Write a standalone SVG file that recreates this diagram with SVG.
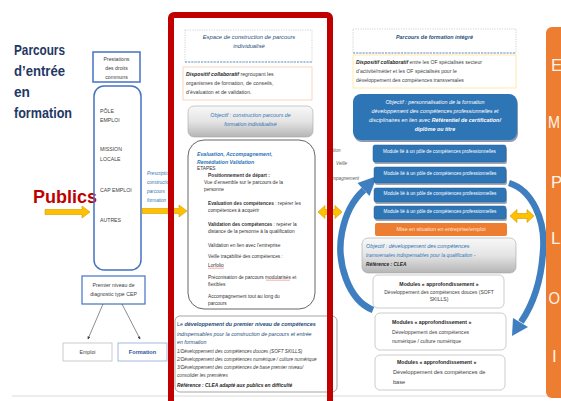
<svg xmlns="http://www.w3.org/2000/svg" width="561" height="401" viewBox="0 0 561 401">
<defs>
<style>
text{font-family:"Liberation Sans",Arial,sans-serif;}
.title{font-size:15px;font-weight:bold;fill:#1F3864;}
.lbl{font-size:5.2px;fill:#404040;}
.sm{font-size:4.8px;fill:#333333;}
.md{font-size:5.2px;fill:#404040;}
.b{font-weight:bold;}
.i{font-style:italic;}
.c{text-anchor:middle;}
.navy{fill:#1F4E79;}
.blue{fill:#2E75B6;}
.bbox{fill:none;stroke:#4472C4;stroke-width:1.5;}
.mod{fill:#2E75B6;stroke:#285F99;stroke-width:0.5;}
.shadow{fill:#9FA8B5;}
.modt{font-size:4.7px;fill:#fff;text-anchor:middle;}
.app{fill:#fff;stroke:#BFBFBF;stroke-width:0.8;}
.yarrow{fill:#FFC000;stroke:#D49A00;stroke-width:0.6;}
.curve{fill:none;stroke:#3F7FBF;stroke-width:6.5;}
.curvehead{fill:#3F7FBF;}
.letter{font-size:17px;fill:#FFF3E8;}
.dot{fill:none;stroke:#BFBFBF;stroke-width:0.7;stroke-dasharray:1.2 1.2;}
.dash{stroke:#4A7FC0;stroke-width:0.8;stroke-dasharray:2 1.2;}
.conn{stroke:#404040;stroke-width:0.6;fill:none;}
</style>
<linearGradient id="gray" x1="0" y1="0" x2="0" y2="1">
<stop offset="0" stop-color="#F8F8F8"/><stop offset="0.5" stop-color="#E4E4E4"/><stop offset="1" stop-color="#B5B5B5"/>
</linearGradient>
<marker id="ah" viewBox="0 0 6 6" refX="5" refY="3" markerWidth="5" markerHeight="5" orient="auto">
<path d="M0,0 L6,3 L0,6 z" fill="#404040"/>
</marker>
<clipPath id="clipL"><rect x="0" y="0" width="169" height="401"/></clipPath>
<clipPath id="clipR"><rect x="331" y="0" width="30" height="401"/></clipPath>
</defs>

<rect x="0" y="0" width="561" height="401" fill="#FFFFFF"/>
<line x1="12" y1="396" x2="547" y2="396" stroke="#D9D9D9" stroke-width="1"/>

<!-- Left column -->
<g id="title">
<text x="14" y="55" class="title" textLength="51" lengthAdjust="spacingAndGlyphs">Parcours</text>
<text x="14" y="76" class="title" textLength="51" lengthAdjust="spacingAndGlyphs">d’entrée</text>
<text x="14" y="97" class="title" textLength="16" lengthAdjust="spacingAndGlyphs">en</text>
<text x="14" y="118" class="title" textLength="58" lengthAdjust="spacingAndGlyphs">formation</text>
</g>

<g id="publics">
<text x="33" y="203" font-size="18" font-weight="bold" fill="#C00000">Publics</text>
</g>

<g id="prestations">
<rect x="93" y="52" width="47" height="30" class="bbox"/>
<text x="116.5" y="61" class="lbl c">Prestations</text>
<text x="116.5" y="70" class="lbl c">des droits</text>
<text x="116.5" y="78.5" class="lbl c">communs</text>
</g>

<g id="organismes">
<rect x="94" y="86" width="47" height="184" rx="10" class="bbox"/>
<text x="100" y="113" class="lbl">PÔLE</text>
<text x="100" y="122" class="lbl">EMPLOI</text>
<text x="100" y="151" class="lbl">MISSION</text>
<text x="100" y="160.5" class="lbl">LOCALE</text>
<text x="100" y="192" class="lbl">CAP EMPLOI</text>
<text x="100" y="222" class="lbl">AUTRES</text>
</g>

<g id="diagnostic">
<rect x="82" y="276" width="63" height="28" fill="#fff" stroke="#4472C4" stroke-width="1.2"/>
<text x="113.5" y="287" class="md c">Premier niveau de</text>
<text x="113.5" y="296" class="md c">diagnostic  type CEP</text>
</g>

<g id="emploi">
<rect x="63" y="343" width="49" height="18" fill="#fff" stroke="#BFBFBF" stroke-width="0.8"/>
<text x="87.5" y="353.5" class="md c">Emploi</text>
</g>
<g id="formation">
<rect x="118" y="343" width="49" height="18" fill="#fff" stroke="#8EA9DB" stroke-width="0.8"/>
<text x="142.5" y="354" class="c" font-size="5.6" font-weight="bold" fill="#2F5597">Formation</text>
</g>

<g id="prescription" clip-path="url(#clipL)">
<text x="147" y="175" class="i" font-size="4.6" fill="#2E75B6">Prescription</text>
<text x="147" y="184" class="i" font-size="4.6" fill="#2E75B6">construction</text>
<text x="147" y="193" class="i" font-size="4.6" fill="#2E75B6">parcours</text>
<text x="147" y="202" class="i" font-size="4.6" fill="#2E75B6">formation</text>
</g>

<g id="transition-labels" clip-path="url(#clipR)">
<text x="318" y="152" class="i" font-size="4.6" fill="#595959">Orientation</text>
<text x="336" y="165" class="i" font-size="4.6" fill="#595959">Veille</text>
<text x="322" y="180" class="i" font-size="4.6" fill="#595959">Accompagnement</text>
</g>

<!-- Connectors -->
<g id="connectors">
<line x1="103" y1="304" x2="88" y2="339" class="conn" marker-end="url(#ah)"/>
<line x1="122" y1="304" x2="140" y2="339" class="conn" marker-end="url(#ah)"/>
<polygon class="yarrow" points="45,209.5 82,209.5 82,206 90,212 82,218 82,214.5 45,214.5"/>
<polygon class="yarrow" points="142,208.5 179,208.5 179,205 187,211 179,217 179,213.5 142,213.5"/>
<polygon class="yarrow" points="318,212 325,205.5 325,209.5 335,209.5 335,205.5 342,212 335,218.5 335,214.5 325,214.5 325,218.5"/>
<polygon class="yarrow" points="510,216 517,209.5 517,213.5 527,213.5 527,209.5 534,216 527,222.5 527,218.5 517,218.5 517,222.5"/>
<path class="curve" d="M373,310 C348,300 336,262 342,232 C346,212 355,198 364,190"/>
<polygon class="curvehead" points="377,176 369.5,196 357.5,183"/>
<path class="curve" d="M509,183 C532,190 546,220 543,252 C541,282 532,306 521,322"/>
<polygon class="curvehead" points="512,336 513,318 528,327"/>
</g>

<!-- Center column -->
<g id="espace">
<rect x="185" y="30" width="127" height="32" class="dot"/>
<line x1="185" y1="62" x2="312" y2="62" class="dash"/>
<text x="249" y="39" class="i c navy" font-size="5.8">Espace de construction de parcours</text>
<text x="249" y="48" class="i c navy" font-size="5.8">individualisé</text>
</g>

<g id="dispositif-centre">
<rect x="183" y="67" width="129" height="33" fill="#fff" stroke="#F8CBAD" stroke-width="0.8"/>
<text x="186" y="76" class="md"><tspan class="b i" fill="#262626">Dispositif collaboratif</tspan> regroupant les</text>
<text x="186" y="85" class="md">organismes de formation, de conseils,</text>
<text x="186" y="94" class="md">d’évaluation et de validation.</text>
</g>

<g id="objectif-centre">
<rect x="188" y="106" width="125" height="31" rx="6" fill="url(#gray)" stroke="#A6A6A6" stroke-width="0.6"/>
<text x="250.5" y="117" class="i c blue" font-size="5.3">Objectif : construction parcours de</text>
<text x="250.5" y="126" class="i c blue" font-size="5.3">formation individualisé</text>
</g>

<g id="etapes">
<rect x="188" y="140" width="127" height="169" rx="16" fill="#fff" stroke="#404040" stroke-width="0.8"/>
<text x="197" y="156" class="b i blue" font-size="5.2">Evaluation, Accompagnement,</text>
<text x="197" y="164" class="b i blue" font-size="5.2">Remédiation Validation</text>
<text x="197" y="170" class="sm">ETAPES</text>
<text x="208" y="177" class="sm b">Positionnement de départ :</text>
<text x="204" y="184" class="sm">Vue d’ensemble sur le parcours de la</text>
<text x="204" y="191" class="sm">personne</text>
<text x="208" y="205" class="sm"><tspan class="b">Evaluation des compétences</tspan> : repérer les</text>
<text x="208" y="212" class="sm">compétences à acquérir</text>
<text x="208" y="226" class="sm"><tspan class="b">Validation des compétences</tspan> : repérer la</text>
<text x="208" y="233" class="sm">distance de la personne à la qualification</text>
<text x="208" y="247" class="sm">Validation en lien avec l’entreprise</text>
<text x="208" y="258" class="sm">Veille traçabilité des compétences :</text>
<text x="208" y="267" class="sm">Lorfolio</text>
<path d="M208,268.6 l1,-0.8 l1,0.8 l1,-0.8 l1,0.8 l1,-0.8 l1,0.8 l1,-0.8 l1,0.8 l1,-0.8 l1,0.8 l1,-0.8 l1,0.8 l1,-0.8 l1,0.8 l1,-0.8 l1,0.8" fill="none" stroke="#E03030" stroke-width="0.4"/>
<text x="208" y="279" class="sm">Préconisation de parcours modularisés et</text>
<path d="M266,280.6 l1,-0.8 l1,0.8 l1,-0.8 l1,0.8 l1,-0.8 l1,0.8 l1,-0.8 l1,0.8 l1,-0.8 l1,0.8 l1,-0.8 l1,0.8 l1,-0.8 l1,0.8 l1,-0.8 l1,0.8 l1,-0.8 l1,0.8 l1,-0.8 l1,0.8 l1,-0.8 l1,0.8 l1,-0.8 l1,0.8" fill="none" stroke="#E03030" stroke-width="0.4"/>
<text x="208" y="286" class="sm">flexibles</text>
<text x="208" y="298" class="sm">Accompagnement tout au long du</text>
<text x="208" y="305" class="sm">parcours</text>
</g>

<g id="premier-niveau">
<rect x="175" y="316" width="162" height="76" rx="5" fill="#fff" stroke="#808080" stroke-width="0.7"/>
<text x="177" y="326" font-size="5.4" fill="#1F4E79"><tspan>Le </tspan><tspan class="b i">développement  du  premier niveau de compétences</tspan></text>
<text x="177" y="336" class="i" font-size="5.3" fill="#1F4E79">indispensables pour la construction de parcours et entrée</text>
<text x="177" y="344" class="i" font-size="5.3" fill="#1F4E79">en formation</text>
<text x="177" y="353" class="i" font-size="4.7" fill="#404040">1/Développement des compétences douces (SOFT SKILLS)</text>
<text x="177" y="361" class="i" font-size="4.7" fill="#404040">2/Développement  des compétences numérique / culture numérique</text>
<text x="177" y="369" class="i" font-size="4.7" fill="#404040">3/Développement des compétences de base premier niveau/</text>
<text x="177" y="377" class="i" font-size="4.7" fill="#404040">consolider les premières</text>
<text x="177" y="387" class="b i" font-size="4.9" fill="#262626">Référence : CLEA adapté aux publics en difficulté</text>
</g>

<g id="cadre-rouge">
<rect x="171" y="15" width="159" height="400" rx="3" fill="none" stroke="#C00000" stroke-width="6"/>
</g>

<!-- Right column -->
<g id="parcours-integre">
<rect x="353" y="29" width="163" height="24" class="dot"/>
<line x1="353" y1="53" x2="516" y2="53" class="dash"/>
<text x="434.5" y="39" class="b i c navy" font-size="5.4">Parcours de formation intégré</text>
</g>

<g id="dispositif-droite">
<rect x="353" y="55" width="163" height="33" fill="#fff" stroke="#FFE699" stroke-width="0.8"/>
<text x="356" y="64" font-size="5.1" fill="#404040"><tspan class="b i" fill="#262626">Dispositif collaboratif</tspan> entre les OF spécialisés secteur</text>
<text x="356" y="73" font-size="5.1" fill="#404040">d’activité/métier et les OF spécialisés pour le</text>
<text x="356" y="82" font-size="5.1" fill="#404040">développement des compétences transversales</text>
</g>

<g id="objectif-droite">
<rect x="354" y="96" width="164" height="46" rx="8" fill="#8A9AB0"/>
<rect x="353" y="94" width="164" height="46" rx="8" fill="#2E75B6"/>
<text x="435" y="104" class="i c" font-size="5.4" fill="#fff">Objectif :  personnalisation de la formation</text>
<text x="435" y="113" class="i c" font-size="5.4" fill="#fff">développement des compétences professionnelles et</text>
<text x="435" y="122" class="i c" font-size="5.4" fill="#fff">disciplinaires  en lien avec <tspan class="b">Référentiel de certification/</tspan></text>
<text x="435" y="131" class="b i c" font-size="5.4" fill="#fff">diplôme ou titre</text>
</g>

<g id="module-1">
<rect x="374" y="147" width="133" height="17" rx="2" class="shadow"/>
<rect x="373" y="145" width="133" height="17" rx="2" class="mod"/>
<text x="439.5" y="153" class="modt">Module lié à un pôle de compétences professionnelles</text>
</g>
<g id="module-2">
<rect x="375" y="169" width="132" height="16" rx="2" class="shadow"/>
<rect x="374" y="167" width="132" height="16" rx="2" class="mod"/>
<text x="440" y="175" class="modt">Module lié à un pôle de compétences professionnelles</text>
</g>
<g id="module-3">
<rect x="375" y="190" width="132" height="14" rx="2" class="shadow"/>
<rect x="374" y="188" width="132" height="14" rx="2" class="mod"/>
<text x="440" y="194.5" class="modt">Module lié à un pôle de compétences professionnelles</text>
</g>
<g id="module-4">
<rect x="375" y="208" width="132" height="13" rx="2" class="shadow"/>
<rect x="374" y="206" width="132" height="13" rx="2" class="mod"/>
<text x="440" y="212.5" class="modt">Module lié à un pôle de compétences professionnelles</text>
</g>
<g id="mise-en-situation">
<rect x="375" y="223" width="132" height="13" rx="2" fill="#ED7D31"/>
<text x="441" y="231" class="c" font-size="5.3" fill="#FDE9D9">Mise en situation en entreprise/emploi</text>
</g>

<g id="objectif-transversal">
<rect x="362" y="238" width="154" height="35" rx="6" fill="url(#gray)" stroke="#A6A6A6" stroke-width="0.6"/>
<text x="366" y="248" class="i" font-size="5.4" fill="#2E75B6">Objectif : développement des compétences</text>
<text x="366" y="257" class="i" font-size="4.9" fill="#2E75B6">transversales indispensables pour la qualification -</text>
<text x="366" y="265.5" class="b i" font-size="4.8" fill="#262626">Référence : CLEA</text>
</g>

<g id="approfondissement-1">
<rect x="373" y="275" width="131" height="33" rx="5" class="app"/>
<text x="439" y="286" class="b c" font-size="5.2" fill="#262626">Modules « approfondissement »</text>
<text x="439" y="293.5" class="c" font-size="5" fill="#404040">Développement des compétences douces (SOFT</text>
<text x="439" y="301" class="c" font-size="5" fill="#404040">SKILLS)</text>
</g>
<g id="approfondissement-2">
<rect x="375" y="313" width="131" height="37" rx="5" class="app"/>
<text x="392" y="324" class="b" font-size="5.2" fill="#262626">Modules « approfondissement »</text>
<text x="392" y="333.5" font-size="5.1" fill="#404040">Développement des compétences</text>
<text x="392" y="343" font-size="5.1" fill="#404040">numérique / culture numérique</text>
</g>
<g id="approfondissement-3">
<rect x="375" y="355" width="130" height="35" rx="5" class="app"/>
<text x="397" y="364" class="b" font-size="5.2" fill="#262626">Modules « approfondissement »</text>
<text x="393" y="374" font-size="5.6" fill="#404040">Développement des compétences  de</text>
<text x="393" y="384" font-size="5.6" fill="#404040">base</text>
</g>

<g id="barre-emploi">
<rect x="546" y="27" width="22" height="371" rx="6" fill="#ED7D31"/>
<text x="551" y="71" class="letter">E</text>
<text x="548" y="128" class="letter" textLength="12" lengthAdjust="spacingAndGlyphs">M</text>
<text x="551" y="188" class="letter">P</text>
<text x="551" y="244" class="letter">L</text>
<text x="548.5" y="304" class="letter" textLength="11.5" lengthAdjust="spacingAndGlyphs">O</text>
<text x="552" y="362" class="letter">I</text>
</g>
</svg>
